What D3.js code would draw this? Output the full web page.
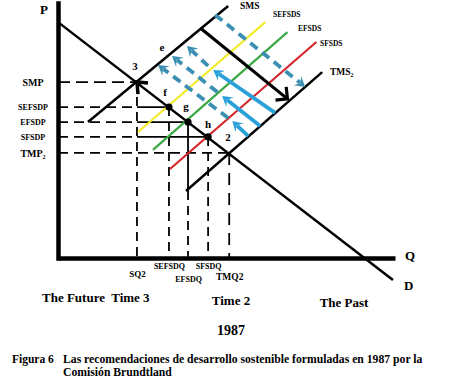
<!DOCTYPE html>
<html><head><meta charset="utf-8">
<script src="https://cdn.jsdelivr.net/npm/d3@7"></script>
<style>
body{margin:0;background:#fff}
svg{display:block;font-family:"Liberation Serif","Times New Roman",serif}
text{font-family:"Liberation Serif","Times New Roman",serif;font-weight:bold;fill:#000}
</style>
</head><body>
<svg id="c" width="450" height="382"></svg>
<script>
// ---------- data ----------
const priceLabels = ["SMP", "SEFSDP", "EFSDP", "SFSDP", "TMP₂"];
const priceValues = [69.0, 59.2, 53.3, 47.5, 41.2];
const qtyLabels   = ["SQ2", "SEFSDQ", "EFSDQ", "SFSDQ", "TMQ2"];
const qtyValues   = [23.2, 32.6, 38.2, 44.1, 50.3];
const pointNames  = ["3", "f", "g", "h", "2"];
const demandLine  = [[0, 92.5], [98.4, -8.6]];
const supplyNames = ["SMS", "SEFSDS", "EFSDS", "SFSDS", "TMS₂"];
const supplyLines = [
  [[8.8, 53.3], [50.0, 98.8]],
  [[23.5, 49.4], [60.9, 92.5]],
  [[27.9, 42.4], [67.4, 88.6]],
  [[32.9, 34.9], [75.9, 84.7]],
  [[37.6, 26.3], [77.6, 72.9]]
];
const solidArrows  = [
  [[63.8, 56.9], [45.6, 73.7]],
  [[59.4, 51.8], [48.2, 63.5]],
  [[55.9, 47.8], [51.2, 53.7]]
];
const dashedArrows = [
  [[44.1, 75.3], [37.9, 83.1]],
  [[46.8, 65.1], [33.5, 79.2]],
  [[50.0, 54.9], [29.4, 75.7]],
  [[46.2, 95.3], [72.6, 67.1]]
];
const shiftArrow  = [[41.8, 90.2], [67.4, 62.4]];
const extraPointLabel = {name: "e", q: 30.5, p: 81.2};
const timeLabels  = ["The Future  Time 3", "Time 2", "The Past"];
const yearLabel   = "1987";
const captionHead = "Figura 6";
const captionLines = ["Las recomendaciones de desarrollo sostenible formuladas en 1987 por la", "Comisión Brundtland"];
const axisNames   = ["P", "Q", "D"];

// ---------- layout / style ----------
const svg = d3.select("#c");
const x = d3.scaleLinear().domain([0, 99]).range([58, 395]);
const y = d3.scaleLinear().domain([0, 100]).range([258, 3]);
const SERIF = "'Liberation Serif','Times New Roman',serif";
const supplyColors = ["#000", "#f2ec2c", "#3aa845", "#d4272c", "#000"];
const supplyWidths = [2.5, 2.2, 2.2, 2.2, 2.5];
const supplyLabelPos = [[240, 9], [273, 17], [298, 31], [320, 46], [330, 75]];
const supplyLabelSize = [9.5, 7.5, 7.5, 7.5, 9.5];
const priceLabelSize = [10, 8, 8, 8, 10];
const qtyLabelBase = [277, 269, 282, 269, 280];
const qtyLabelSize = [9, 8, 8, 8, 9.5];
const pointLabelPos = [[135, 70], [165, 96], [186, 110], [208, 128], [228, 141]];
const blueSolid = "#2aa0d8", blueDash = "#3a8fb2";

function txt(sel) { return sel.style("font-family", SERIF).style("font-weight", "bold"); }

// axes
const yAxis = d3.axisLeft(y).tickValues(priceValues)
  .tickFormat((d, i) => priceLabels[i]).tickSize(0).tickSizeOuter(0);
const gy = svg.append("g").attr("transform", `translate(${x(0)},0)`).call(yAxis).attr("font-family", null);
gy.select(".domain").attr("stroke", "#000").attr("stroke-width", 4.5).attr("stroke-linecap", "square");
txt(gy.selectAll(".tick text")).attr("x", -25).attr("text-anchor", "middle")
  .style("font-size", (d, i) => priceLabelSize[i] + "px");

const xAxis = d3.axisBottom(x).tickValues(qtyValues)
  .tickFormat((d, i) => qtyLabels[i]).tickSize(0).tickSizeOuter(0);
const gx = svg.append("g").attr("transform", `translate(0,${y(0)})`).call(xAxis).attr("font-family", null);
gx.select(".domain").attr("stroke", "#000").attr("stroke-width", 4.5);
txt(gx.selectAll(".tick text")).attr("dy", null).attr("y", (d, i) => qtyLabelBase[i] - y(0))
  .style("font-size", (d, i) => qtyLabelSize[i] + "px");

// guides
const guides = svg.append("g");
function gl(x1, y1, x2, y2, dash) {
  const l = guides.append("line").attr("x1", x1).attr("y1", y1).attr("x2", x2).attr("y2", y2)
    .attr("stroke", "#000").attr("stroke-width", 1.8);
  if (dash) l.attr("stroke-dasharray", dash);
}
priceValues.forEach((p, i) => {
  const q = qtyValues[i];
  if (i === 0 || i === 4) {
    gl(x(0), y(p), x(q), y(p), i === 0 ? "12,6" : "10,6");
  } else {
    gl(x(0), y(p), x(qtyValues[0]), y(p), "10,6");
    gl(x(qtyValues[0]), y(p), x(q), y(p), null);
  }
  if (i === 2) {
    const yEnd = y(supplyLines[4][0][1]);
    gl(x(q), y(p), x(q), yEnd, null);
    gl(x(q), yEnd, x(q), y(0), "9,6");
  } else {
    gl(x(q), y(p), x(q), y(0), i === 4 ? "12,8" : "9,6");
  }
});

// demand
const line = d3.line().x(d => x(d[0])).y(d => y(d[1]));
svg.append("path").attr("d", line(demandLine)).attr("fill", "none").attr("stroke", "#000").attr("stroke-width", 2.5);

// supply lines
supplyLines.forEach((s, i) => {
  svg.append("path").attr("d", line(s)).attr("fill", "none")
    .attr("stroke", supplyColors[i]).attr("stroke-width", supplyWidths[i]);
  txt(svg.append("text")).attr("x", supplyLabelPos[i][0]).attr("y", supplyLabelPos[i][1])
    .style("font-size", supplyLabelSize[i] + "px").text(supplyNames[i]);
});

// arrows
function head(tail, tip, color, L, Wd) {
  const x0 = x(tail[0]), y0 = y(tail[1]), x1 = x(tip[0]), y1 = y(tip[1]);
  const dx = x1 - x0, dy = y1 - y0, len = Math.hypot(dx, dy);
  const ux = dx / len, uy = dy / len, nx = -uy, ny = ux;
  const bx = x1 - ux * L, by = y1 - uy * L;
  const pts = [[x1, y1], [bx + nx * Wd, by + ny * Wd], [x1 - ux * L * 0.6, y1 - uy * L * 0.6], [bx - nx * Wd, by - ny * Wd]];
  svg.append("path").attr("d", "M" + pts.map(p => p.join(",")).join("L") + "Z").attr("fill", color);
  return [x1 - ux * L * 0.65, y1 - uy * L * 0.65];
}
solidArrows.forEach(a => {
  const end = head(a[0], a[1], blueSolid, 10, 6);
  svg.append("line").attr("x1", x(a[0][0])).attr("y1", y(a[0][1])).attr("x2", end[0]).attr("y2", end[1])
    .attr("stroke", blueSolid).attr("stroke-width", 3.8);
});
dashedArrows.forEach(a => {
  const end = head(a[0], a[1], blueDash, 10, 6);
  svg.append("line").attr("x1", x(a[0][0])).attr("y1", y(a[0][1])).attr("x2", end[0]).attr("y2", end[1])
    .attr("stroke", blueDash).attr("stroke-width", 3.8).attr("stroke-dasharray", "9,6");
});
// black shift arrow
{
  const x0 = x(shiftArrow[0][0]), y0 = y(shiftArrow[0][1]), x1 = x(shiftArrow[1][0]), y1 = y(shiftArrow[1][1]);
  svg.append("line").attr("x1", x0).attr("y1", y0).attr("x2", x1).attr("y2", y1)
    .attr("stroke", "#000").attr("stroke-width", 3.2);
  const ang = Math.atan2(y1 - y0, x1 - x0), L = 12;
  const a1 = ang + Math.PI - Math.PI / 4, a2 = ang + Math.PI + Math.PI / 4;
  svg.append("path").attr("d", `M${x1 + L * Math.cos(a1)},${y1 + L * Math.sin(a1)}L${x1},${y1}L${x1 + L * Math.cos(a2)},${y1 + L * Math.sin(a2)}`)
    .attr("fill", "none").attr("stroke", "#000").attr("stroke-width", 3.2);
}
// mark at point 3
{
  const px = x(qtyValues[0]), py = y(priceValues[0]);
  svg.append("path").attr("d", `M${px + 11},${py + 1}L${px},${py}L${px + 1},${py + 12}`)
    .attr("fill", "none").attr("stroke", "#000").attr("stroke-width", 3.5);
}

// dots f,g,h
[1, 2, 3].forEach(i => {
  svg.append("circle").attr("cx", x(qtyValues[i])).attr("cy", y(priceValues[i])).attr("r", 3.6).attr("fill", "#000");
});
pointNames.forEach((n, i) => {
  txt(svg.append("text")).attr("x", pointLabelPos[i][0]).attr("y", pointLabelPos[i][1]).attr("text-anchor", "middle")
    .style("font-size", "11px").text(n);
});
txt(svg.append("text")).attr("x", x(extraPointLabel.q)).attr("y", y(extraPointLabel.p)).attr("text-anchor", "middle")
  .style("font-size", "11px").text(extraPointLabel.name);

// axis names
txt(svg.append("text")).attr("x", 40).attr("y", 14).style("font-size", "13px").text(axisNames[0]);
txt(svg.append("text")).attr("x", 405).attr("y", 260).style("font-size", "13px").text(axisNames[1]);
txt(svg.append("text")).attr("x", 404).attr("y", 290).style("font-size", "13px").text(axisNames[2]);

// time labels
const timePos = [[42, 302, "start"], [231, 305, "middle"], [344, 307, "middle"]];
timeLabels.forEach((t, i) => {
  txt(svg.append("text")).attr("x", timePos[i][0]).attr("y", timePos[i][1]).attr("text-anchor", timePos[i][2])
    .style("font-size", "13px").style("white-space", "pre").text(t);
});
txt(svg.append("text")).attr("x", 231).attr("y", 335).attr("text-anchor", "middle").style("font-size", "14px").text(yearLabel);

// caption
txt(svg.append("text")).attr("x", 12).attr("y", 363).style("font-size", "11.5px").text(captionHead);
txt(svg.append("text")).attr("x", 63).attr("y", 363).style("font-size", "11.7px").text(captionLines[0]);
txt(svg.append("text")).attr("x", 63).attr("y", 376).style("font-size", "11.7px").text(captionLines[1]);
</script>
</body></html>
